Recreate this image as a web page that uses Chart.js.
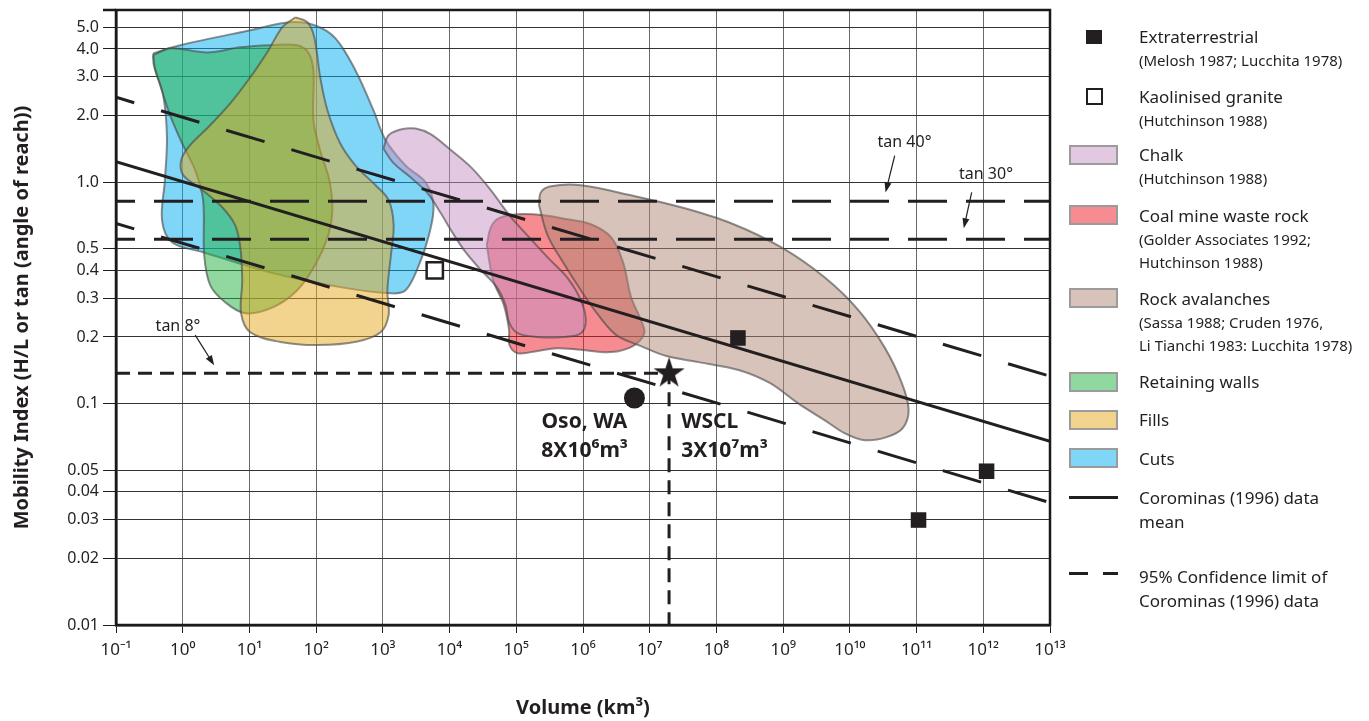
<!DOCTYPE html>
<html lang="en">
  <head>
    <meta charset="UTF-8" />
    <title>Mobility index vs volume</title>
    <script src="https://cdn.jsdelivr.net/npm/chart.js"></script>
    <style>
      body { margin: 0; background: #fff; }
      #wrap { position: relative; width: 1369px; height: 721px; }
      #legend { position: absolute; left: 0; top: 0; width: 1369px; height: 721px; pointer-events: none;
        font-family: "Noto Sans", "Open Sans", sans-serif; color: #231f20; }
      .sym { position: absolute; box-sizing: border-box; }
      .txt { position: absolute; left: 1139px; white-space: nowrap; }
      .main { font-size: 17px; line-height: 23.5px; }
      .ref { font-size: 15px; line-height: 23.5px; }
    </style>
  </head>
  <body>
    <div id="wrap">
      <canvas id="chart" width="1369" height="721"></canvas>
      <div id="legend"></div>
    </div>

    <script>
      // axis ticks
      const xTickValues = [1e-1, 1e0, 1e1, 1e2, 1e3, 1e4, 1e5, 1e6, 1e7, 1e8, 1e9, 1e10, 1e11, 1e12, 1e13];
      const xTickLabels = ["10⁻¹", "10⁰", "10¹", "10²", "10³", "10⁴", "10⁵", "10⁶", "10⁷", "10⁸", "10⁹", "10¹⁰", "10¹¹", "10¹²", "10¹³"];
      const yTickValues = [5, 4, 3, 2, 1, 0.5, 0.4, 0.3, 0.2, 0.1, 0.05, 0.04, 0.03, 0.02, 0.01];
      const yTickLabels = ["5.0", "4.0", "3.0", "2.0", "1.0", "0.5", "0.4", "0.3", "0.2", "0.1", "0.05", "0.04", "0.03", "0.02", "0.01"];

      // point data [volume, mobility]
      const extraterrestrial = [[2.1e8, 0.198], [1.07e11, 0.0298], [1.12e12, 0.0495]];
      const kaolinised = [[6.0e3, 0.4]];
      const oso = [[5.9e6, 0.106]];
      const wscl = [[1.95e7, 0.137]];

      // outlines of the fields [volume, mobility]
      const cutsOutline = [[0.36, 3.82], [0.91, 4.16], [10.3, 4.86], [41, 5.28], [97, 5.11], [195, 4.47], [389, 3.2], [724, 2.11],
        [1.1e3, 1.55], [2.19e3, 1.19], [4.37e3, 1.0], [5.75e3, 0.787], [4.9e3, 0.576], [3.47e3, 0.422], [2.19e3, 0.325],
        [1.32e3, 0.315], [229, 0.336], [22.8, 0.388], [2.02, 0.483], [0.69, 0.536], [0.49, 0.673], [0.54, 1.02], [0.58, 1.6],
        [0.51, 2.47], [0.385, 3.27]];
      const wallsOutline = [[0.36, 3.74], [0.65, 4.03], [2.33, 3.86], [7.3, 4.07], [20.6, 4.16], [52, 4.16], [76, 3.86], [91, 3.2],
        [91, 1.91], [115, 1.39], [158, 1.02], [175, 0.748], [152, 0.576], [100, 0.431], [52, 0.325], [22.8, 0.273], [8.65, 0.256],
        [4.33, 0.287], [2.58, 0.343], [2.1, 0.468], [2.02, 0.83], [1.54, 1.13], [0.98, 1.5], [0.65, 2.0], [0.46, 2.74], [0.37, 3.37]];
      const fillsOutline = [[48.8, 5.56], [74, 5.28], [94, 4.51], [115, 2.98], [148, 2.11], [229, 1.5], [389, 1.19], [776, 0.969],
        [1.22e3, 0.83], [1.45e3, 0.64], [1.32e3, 0.468], [1.17e3, 0.325], [1.22e3, 0.251], [923, 0.21], [417, 0.191], [105, 0.184],
        [29, 0.19], [10.3, 0.21], [7.5, 0.256], [7.8, 0.361], [7.3, 0.509], [6.1, 0.64], [3.9, 0.771], [1.82, 0.94], [1.01, 1.08],
        [0.95, 1.26], [1.29, 1.47], [2.58, 1.81], [5.15, 2.27], [10.3, 2.98], [19.2, 3.94], [31, 5.01]];
      const chalkOutline = [[1.02e3, 1.42], [1.22e3, 1.63], [1.84e3, 1.73], [3.09e3, 1.75], [5.2e3, 1.65], [9.8e3, 1.42], [2.09e4, 1.17],
        [4.17e4, 0.92], [8.3e4, 0.695], [1.55e5, 0.565], [2.95e5, 0.458], [5.9e5, 0.369], [9.3e5, 0.293], [1.1e6, 0.238],
        [9.3e5, 0.208], [5.1e5, 0.2], [2.09e5, 0.2], [1.05e5, 0.208], [7.8e4, 0.233], [6.9e4, 0.279], [5.1e4, 0.336],
        [2.95e4, 0.401], [1.74e4, 0.483], [1.12e4, 0.589], [7.4e3, 0.724], [4.7e3, 0.892], [2.63e3, 1.05], [1.45e3, 1.22]];
      const coalOutline = [[3.6e4, 0.52], [4.17e4, 0.627], [5.5e4, 0.688], [1.05e5, 0.717], [2.6e5, 0.71], [5.9e5, 0.68], [1.32e6, 0.646],
        [2.63e6, 0.565], [3.98e6, 0.436], [5.25e6, 0.303], [7.4e6, 0.238], [8.3e6, 0.208], [5.6e6, 0.182], [2.63e6, 0.171],
        [9.3e5, 0.175], [3.98e5, 0.178], [2.09e5, 0.173], [1.05e5, 0.169], [7.9e4, 0.184], [7.8e4, 0.215], [6.5e4, 0.279], [4.5e4, 0.361]];
      const rockOutline = [[2.19e5, 0.787], [2.34e5, 0.902], [3.3e5, 0.96], [9.3e5, 0.969], [5.25e6, 0.873], [2.95e7, 0.771],
        [1.66e8, 0.653], [9.3e8, 0.509], [4.17e9, 0.372], [1.35e10, 0.264], [3.3e10, 0.18], [6.0e10, 0.124], [7.6e10, 0.0935],
        [6.2e10, 0.0775], [3.55e10, 0.0706], [1.66e10, 0.0684], [8.3e9, 0.0736], [4.17e9, 0.0843], [1.7e9, 0.1], [6.3e8, 0.124],
        [2.14e8, 0.142], [5.4e7, 0.154], [1.78e7, 0.164], [7.4e6, 0.182], [3.16e6, 0.204], [1.7e6, 0.251], [9.3e5, 0.325],
        [5.0e5, 0.436], [2.95e5, 0.576]];

      // Corominas (1996) mean and 95% limits, tan lines
      const meanLine = [[0.1, 1.24], [1e13, 0.0675]];
      const upperLine = [[0.1, 2.42], [1e13, 0.133]];
      const lowerLine = [[0.1, 0.652], [1e13, 0.0357]];
      const tan40Line = [[0.1, 0.82], [1e13, 0.82]];
      const tan30Line = [[0.1, 0.553], [1e13, 0.553]];
      const tan8Line = [[0.1, 0.137], [1.95e7, 0.137], [1.95e7, 0.01]];

      // notes on the plot
      const noteLabels = [
        { text: "tan 40°", at: [6.6e10, 1.52], align: "center" },
        { text: "tan 30°", at: [1.1e12, 1.08], align: "center" },
        { text: "tan 8°", at: [0.85, 0.224], align: "center" },
      ];
      const noteArrows = [
        [[4.7e10, 1.32], [3.43e10, 0.9]],
        [[6.7e11, 0.9], [5.1e11, 0.62]],
        [[1.54, 0.204], [2.96, 0.149]],
      ];
      const siteLabels = [
        { text: "Oso, WA", at: [4.6e6, 0.0825], align: "right" },
        { text: "8X10⁶m³", at: [4.7e6, 0.061], align: "right" },
        { text: "WSCL", at: [2.96e7, 0.0825], align: "left" },
        { text: "3X10⁷m³", at: [2.96e7, 0.061], align: "left" },
      ];

      const ink = "#231f20";
      const colors = {
        chalk: "rgba(199,145,195,0.5)",
        coal: "rgba(238,25,35,0.5)",
        rock: "rgba(176,135,115,0.5)",
        walls: "rgba(33,177,65,0.5)",
        fills: "rgba(232,170,30,0.5)",
        cuts: "rgba(0,174,239,0.5)",
      };

      const toPts = (arr) => arr.map(([x, y]) => ({ x, y }));

      function shape(label, outline, color, order) {
        return {
          label: label,
          data: toPts([...outline, outline[0]]),
          backgroundColor: color,
          borderColor: "rgba(70,70,70,0.6)",
          borderWidth: 2,
          fill: "shape",
          tension: 0.35,
          pointRadius: 0,
          order: order,
        };
      }

      function line(label, pts, width, dash, offset) {
        return {
          label: label,
          data: toPts(pts),
          borderColor: ink,
          borderWidth: width,
          borderDash: dash,
          borderDashOffset: offset,
          borderCapStyle: "butt",
          fill: false,
          tension: 0,
          pointRadius: 0,
          order: 1,
        };
      }

      function makeStar(size) {
        const c = document.createElement("canvas");
        c.width = c.height = size;
        const g = c.getContext("2d");
        const R = 16.3, r = R * 0.382, cx = size / 2, cy = size / 2;
        g.beginPath();
        for (let i = 0; i < 10; i++) {
          const a = -Math.PI / 2 + (i * Math.PI) / 5;
          const rad = i % 2 ? r : R;
          g.lineTo(cx + rad * Math.cos(a), cy + rad * Math.sin(a));
        }
        g.closePath();
        g.fillStyle = ink;
        g.fill();
        return c;
      }

      const datasets = [
        { label: "Extraterrestrial", data: toPts(extraterrestrial), showLine: false, pointStyle: "rect", pointRadius: 11,
          backgroundColor: ink, borderWidth: 0, order: 0 },
        { label: "Kaolinised granite", data: toPts(kaolinised), showLine: false, pointStyle: "rect", pointRadius: 11.5,
          backgroundColor: "#fff", borderColor: ink, borderWidth: 2.5, order: 0 },
        { label: "Oso, WA", data: toPts(oso), showLine: false, pointStyle: "circle", pointRadius: 10.5,
          backgroundColor: ink, borderWidth: 0, order: 0 },
        { label: "WSCL", data: toPts(wscl), showLine: false, pointStyle: makeStar(36), pointRadius: 16, order: 0 },
        line("mean", meanLine, 3, [], 0),
        line("upper", upperLine, 3, [40, 28], 21),
        line("lower", lowerLine, 3, [40, 28], 21),
        line("tan 40", tan40Line, 3, [39, 19], 20),
        line("tan 30", tan30Line, 3, [39, 19], 20),
        line("tan 8", tan8Line, 3, [14, 8], 0),
        shape("Rock avalanches", rockOutline, colors.rock, 2),
        shape("Chalk", chalkOutline, colors.chalk, 3),
        shape("Coal mine waste rock", coalOutline, colors.coal, 4),
        shape("Fills", fillsOutline, colors.fills, 5),
        shape("Retaining walls", wallsOutline, colors.walls, 6),
        shape("Cuts", cutsOutline, colors.cuts, 7),
      ];

      // frame, arrows and text on the plot
      const overlay = {
        id: "overlay",
        afterDatasetsDraw(chart) {
          const { ctx, chartArea: a, scales } = chart;
          const px = (p) => [scales.x.getPixelForValue(p[0]), scales.y.getPixelForValue(p[1])];
          ctx.save();
          ctx.strokeStyle = "#1a1a1a";
          ctx.lineWidth = 2.5;
          ctx.strokeRect(a.left, a.top, a.right - a.left, a.bottom - a.top);
          ctx.beginPath();
          ctx.moveTo(a.left - 13, a.top);
          ctx.lineTo(a.left, a.top);
          ctx.stroke();

          ctx.strokeStyle = ink;
          ctx.fillStyle = ink;
          ctx.lineWidth = 1.2;
          noteArrows.forEach(([from, to]) => {
            const [x1, y1] = px(from);
            const [x2, y2] = px(to);
            const ang = Math.atan2(y2 - y1, x2 - x1);
            ctx.beginPath();
            ctx.moveTo(x1, y1);
            ctx.lineTo(x2 - 6 * Math.cos(ang), y2 - 6 * Math.sin(ang));
            ctx.stroke();
            ctx.beginPath();
            ctx.moveTo(x2, y2);
            ctx.lineTo(x2 - 10 * Math.cos(ang) + 3.5 * Math.sin(ang), y2 - 10 * Math.sin(ang) - 3.5 * Math.cos(ang));
            ctx.lineTo(x2 - 10 * Math.cos(ang) - 3.5 * Math.sin(ang), y2 - 10 * Math.sin(ang) + 3.5 * Math.cos(ang));
            ctx.closePath();
            ctx.fill();
          });

          ctx.textBaseline = "middle";
          ctx.font = '16px "Noto Sans", "Open Sans", sans-serif';
          noteLabels.forEach((n) => {
            const [x, y] = px(n.at);
            ctx.textAlign = n.align;
            ctx.fillText(n.text, x, y);
          });
          ctx.font = 'bold 21px "Noto Sans", "Open Sans", sans-serif';
          siteLabels.forEach((n) => {
            const [x, y] = px(n.at);
            ctx.textAlign = n.align;
            ctx.fillText(n.text, x, y);
          });
          ctx.restore();
        },
      };

      const xTickFont = { family: '"Noto Sans", "Open Sans", sans-serif', size: 17 };
      const yTickFont = { family: '"Noto Sans", "Open Sans", sans-serif', size: 16 };
      const titleFont = { family: '"Noto Sans", "Open Sans", sans-serif', size: 20, weight: "bold" };

      new Chart(document.getElementById("chart"), {
        type: "line",
        data: { datasets: datasets },
        options: {
          responsive: false,
          animation: false,
          events: [],
          layout: { autoPadding: false, padding: { top: 10, right: 319, left: 0, bottom: 0 } },
          scales: {
            x: {
              type: "logarithmic",
              min: 1e-1,
              max: 1e13,
              afterBuildTicks: (s) => { s.ticks = xTickValues.map((v) => ({ value: v })); },
              afterFit: (s) => { s.height = 96; s.paddingLeft = 0; s.paddingRight = 0; },
              ticks: {
                autoSkip: false,
                maxRotation: 0,
                padding: 7,
                color: ink,
                font: xTickFont,
                callback: (v) => xTickLabels[xTickValues.indexOf(v)],
              },
              grid: { color: "#6a6a6a", lineWidth: 1, tickLength: 8, tickColor: ink },
              border: { color: "#1a1a1a", width: 2.5 },
              title: { display: true, text: "Volume (km³)", color: ink, font: titleFont, padding: { top: 0, bottom: 1 } },
            },
            y: {
              type: "logarithmic",
              min: 0.01,
              max: 6,
              afterBuildTicks: (s) => { s.ticks = yTickValues.map((v) => ({ value: v })); },
              afterFit: (s) => { s.width = 116; s.paddingTop = 0; s.paddingBottom = 0; },
              ticks: {
                autoSkip: false,
                padding: 4,
                color: ink,
                font: yTickFont,
                callback: (v) => yTickLabels[yTickValues.indexOf(v)],
              },
              grid: { color: "#333", lineWidth: 1, tickLength: 13, tickColor: ink },
              border: { color: "#1a1a1a", width: 2.5 },
              title: {
                display: true,
                text: "Mobility Index (H/L or tan (angle of reach))",
                color: ink,
                font: titleFont,
                padding: { top: 10, bottom: 0 },
              },
            },
          },
          plugins: {
            legend: { display: false },
            tooltip: { enabled: false },
          },
        },
        plugins: [overlay],
      });

      // legend on the right
      const legendItems = [
        { lines: ["Extraterrestrial"], refs: ["(Melosh 1987; Lucchita 1978)"], symbol: "solidSquare", top: 37, symY: 37 },
        { lines: ["Kaolinised granite"], refs: ["(Hutchinson 1988)"], symbol: "openSquare", top: 97, symY: 96 },
        { lines: ["Chalk"], refs: ["(Hutchinson 1988)"], symbol: colors.chalk, top: 155, symY: 155 },
        { lines: ["Coal mine waste rock"], refs: ["(Golder Associates 1992;", "Hutchinson 1988)"], symbol: colors.coal, top: 216, symY: 215 },
        { lines: ["Rock avalanches"], refs: ["(Sassa 1988; Cruden 1976,", "Li Tianchi 1983: Lucchita 1978)"], symbol: colors.rock, top: 299, symY: 298 },
        { lines: ["Retaining walls"], refs: [], symbol: colors.walls, top: 382, symY: 382 },
        { lines: ["Fills"], refs: [], symbol: colors.fills, top: 420, symY: 420 },
        { lines: ["Cuts"], refs: [], symbol: colors.cuts, top: 459, symY: 458 },
        { lines: ["Corominas (1996) data", "mean"], refs: [], symbol: "solidLine", top: 498, symY: 497 },
        { lines: ["95% Confidence limit of", "Corominas (1996) data"], refs: [], symbol: "dashLine", top: 577, symY: 573 },
      ];

      const legendEl = document.getElementById("legend");
      function addBox(left, top, w, h, style) {
        const d = document.createElement("div");
        d.className = "sym";
        Object.assign(d.style, { left: left + "px", top: top + "px", width: w + "px", height: h + "px" }, style);
        legendEl.appendChild(d);
      }
      legendItems.forEach((item) => {
        const y = item.symY;
        if (item.symbol === "solidSquare") {
          addBox(1086, y - 7, 16, 14, { background: ink });
        } else if (item.symbol === "openSquare") {
          addBox(1086, y - 8, 17, 17, { border: "2.5px solid " + ink, background: "#fff" });
        } else if (item.symbol === "solidLine") {
          addBox(1069, y - 1.5, 49, 3, { background: ink });
        } else if (item.symbol === "dashLine") {
          addBox(1069, y - 1.5, 19, 3, { background: ink });
          addBox(1103, y - 1.5, 15, 3, { background: ink });
        } else {
          addBox(1069, y - 10, 49, 20, { background: item.symbol, border: "2.5px solid #9b9b9b" });
        }
        let t = item.top - 11.75;
        item.lines.forEach((s) => {
          const d = document.createElement("div");
          d.className = "txt main";
          d.style.top = t + "px";
          d.textContent = s;
          legendEl.appendChild(d);
          t += 23.5;
        });
        item.refs.forEach((s) => {
          const d = document.createElement("div");
          d.className = "txt ref";
          d.style.top = t + "px";
          d.textContent = s;
          legendEl.appendChild(d);
          t += 23.5;
        });
      });
    </script>
  </body>
</html>
